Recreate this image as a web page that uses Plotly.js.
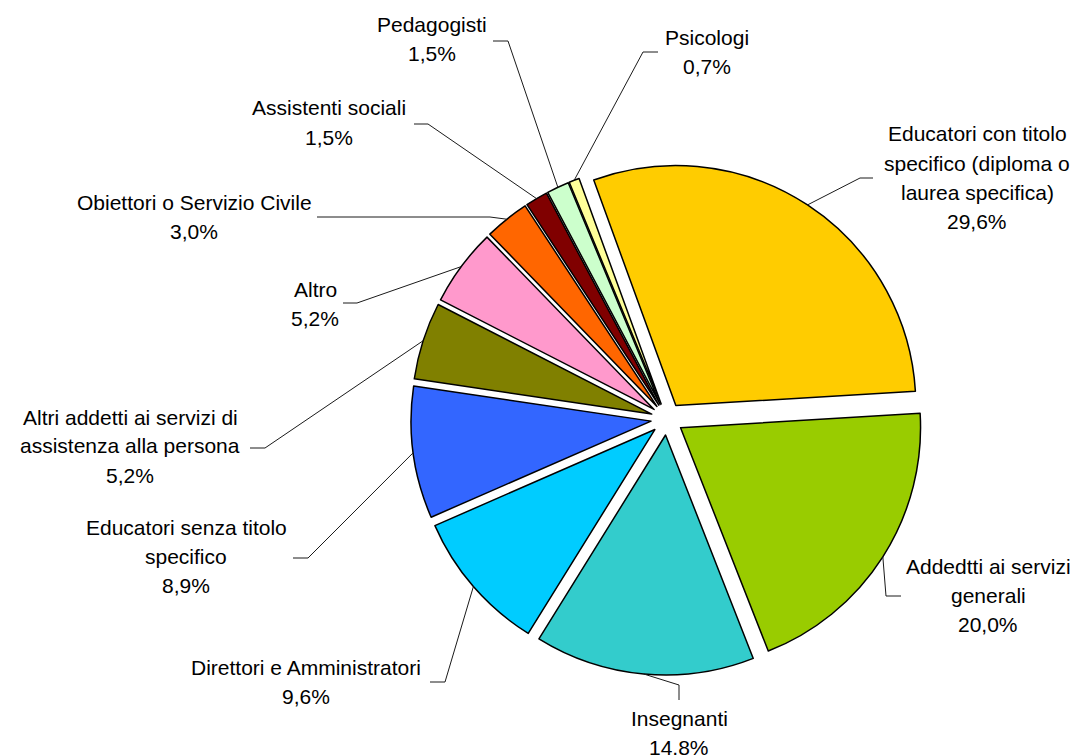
<!DOCTYPE html>
<html>
<head>
<meta charset="utf-8">
<script src="https://cdn.plot.ly/plotly-3.0.1.min.js"></script>
<style>
html,body{margin:0;padding:0;background:#ffffff;}
#chart{width:1078px;height:755px;}
</style>
</head>
<body>
<div id="chart"></div>
<script>
// ---- data ----
const categories = [
  "Educatori con titolo specifico (diploma o laurea specifica)",
  "Addedtti ai servizi generali",
  "Insegnanti",
  "Direttori e Amministratori",
  "Educatori senza titolo specifico",
  "Altri addetti ai servizi di assistenza alla persona",
  "Altro",
  "Obiettori o Servizio Civile",
  "Assistenti sociali",
  "Pedagogisti",
  "Psicologi"
];
const values = [29.6, 20.0, 14.8, 9.6, 8.9, 5.2, 5.2, 3.0, 1.5, 1.5, 0.7];
const labelLines = [
  ["Educatori con titolo", "specifico (diploma o", "laurea specifica)"],
  ["Addedtti ai servizi", "generali"],
  ["Insegnanti"],
  ["Direttori e Amministratori"],
  ["Educatori senza titolo", "specifico"],
  ["Altri addetti ai servizi di", "assistenza alla persona"],
  ["Altro"],
  ["Obiettori o Servizio Civile"],
  ["Assistenti sociali"],
  ["Pedagogisti"],
  ["Psicologi"]
];

// ---- styles / layout ----
const colors = ["#FFCC00", "#99CC00", "#33CCCC", "#00CCFF", "#3366FF", "#808000",
                "#FF99CC", "#FF6600", "#800000", "#CCFFCC", "#FFFF99"];
const W = 1078, H = 755;
const pie = {cx: 667, cy: 419, r: 240, pull: 0.067, rotation: -20};
// label placement (pixels): text centre x, first line y, elbow point, anchor point
const labelPos = [
  {tx: 977, ty: 134, elbow: [860, 178], anchor: [873, 178]},
  {tx: 988, ty: 566, elbow: [886, 596], anchor: [901, 596]},
  {tx: 679, ty: 718, elbow: [679, 685], anchor: [679, 700]},
  {tx: 306, ty: 667, elbow: [445, 682], anchor: [430, 682]},
  {tx: 186, ty: 527, elbow: [308, 558], anchor: [293, 558]},
  {tx: 130, ty: 417, elbow: [265, 448], anchor: [250, 448]},
  {tx: 315, ty: 289, elbow: [357, 303], anchor: [343, 303]},
  {tx: 194, ty: 202, elbow: [490, 217], anchor: [317, 217]},
  {tx: 329, ty: 108, elbow: [428, 124], anchor: [414, 124]},
  {tx: 432, ty: 25,  elbow: [508, 41],  anchor: [493, 41]},
  {tx: 707, ty: 37,  elbow: [643, 52],  anchor: [658, 52]}
];
const lineGap = 29;
const font = {family: "Liberation Sans, Arial, sans-serif", size: 21, color: "#000000"};

const px = x => x / W;
const py = y => 1 - y / H;

const ext = pie.r * (1 + pie.pull);
const domain = {
  x: [px(pie.cx - ext), px(pie.cx + ext)],
  y: [py(pie.cy + ext), py(pie.cy - ext)]
};

const total = values.reduce((a, b) => a + b, 0);
const annotations = [];
const shapes = [];
let cum = 0;
values.forEach((v, i) => {
  const mid = pie.rotation + (cum + v / 2) / total * 360;
  cum += v;
  const a = mid * Math.PI / 180;
  const rr = pie.r * (1 + pie.pull);
  const sx = pie.cx + rr * Math.sin(a);
  const sy = pie.cy - rr * Math.cos(a);
  const lp = labelPos[i];
  shapes.push({
    type: "path", xref: "paper", yref: "paper",
    path: `M ${px(sx)},${py(sy)} L ${px(lp.elbow[0])},${py(lp.elbow[1])} L ${px(lp.anchor[0])},${py(lp.anchor[1])}`,
    line: {color: "#1a1a1a", width: 1}
  });
  const lines = labelLines[i].concat([v.toFixed(1).replace(".", ",") + "%"]);
  lines.forEach((t, k) => {
    annotations.push({
      text: t, showarrow: false, xref: "paper", yref: "paper",
      x: px(lp.tx), y: py(lp.ty + k * lineGap),
      xanchor: "center", yanchor: "middle", font: font
    });
  });
});

const trace = {
  type: "pie",
  labels: categories,
  values: values,
  sort: false,
  direction: "clockwise",
  rotation: pie.rotation,
  pull: values.map(() => pie.pull),
  marker: {colors: colors, line: {color: "#000000", width: 1.5}},
  textinfo: "none",
  hoverinfo: "skip",
  domain: domain
};

const layout = {
  width: W, height: H,
  margin: {l: 0, r: 0, t: 0, b: 0},
  showlegend: false,
  paper_bgcolor: "#ffffff",
  annotations: annotations,
  shapes: shapes
};

Plotly.newPlot("chart", [trace], layout, {displayModeBar: false, staticPlot: true});
</script>
</body>
</html>
